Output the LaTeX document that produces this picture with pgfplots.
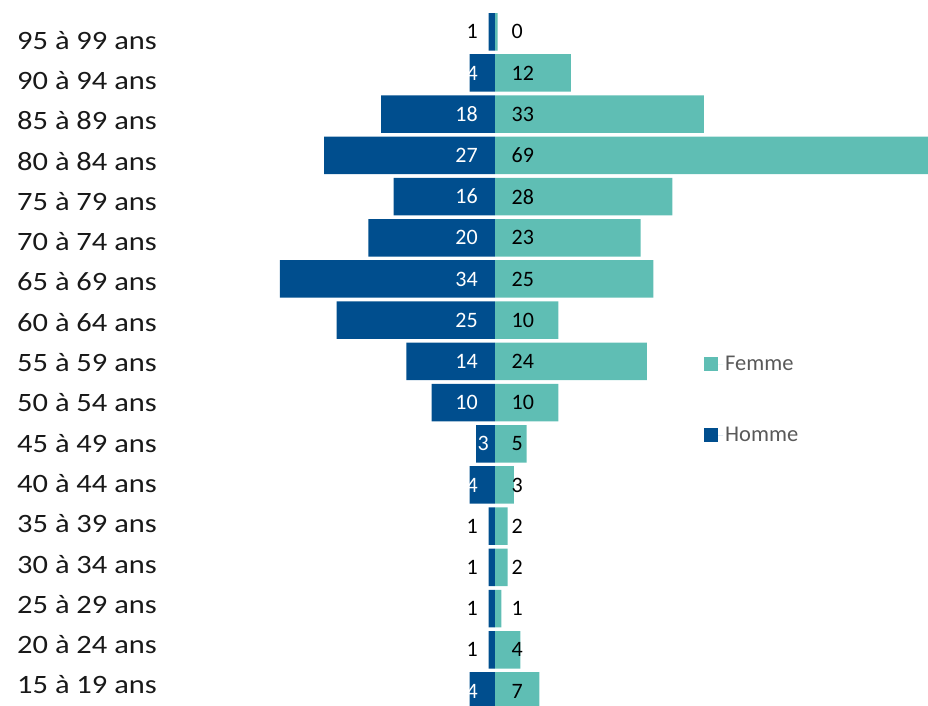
\documentclass[border=0pt]{standalone}
\usepackage{fontspec}
\setmainfont{Carlito}
\newfontfamily\tickfont[FakeStretch=1.15]{Carlito}
\usepackage{pgfplots}
\pgfplotsset{compat=1.18}
\definecolor{homme}{RGB}{0,78,142}
\definecolor{femme}{RGB}{95,190,180}
\definecolor{legtext}{RGB}{89,89,89}
\definecolor{ticktext}{RGB}{25,25,25}
\newcommand\labelfont{\fontsize{22}{24}\selectfont}
\begin{document}
\begin{tikzpicture}[x=1pt,y=1pt]
\useasboundingbox (0,0) rectangle (928,706);
\begin{axis}[
    at={(165.8pt,-5.6pt)}, anchor=south west,
    scale only axis, width=766pt, height=700.4pt,
    xmin=-52, xmax=69, ymin=-0.5, ymax=16.5,
    axis lines*=left, axis line style={draw=none},
    xtick=\empty, major tick length=0pt,
    ytick={0.146,1.124,2.102,3.080,4.058,5.036,6.014,6.992,7.970,8.948,9.926,10.904,11.882,12.860,13.838,14.816,15.794},
    yticklabels={15 à 19 ans,20 à 24 ans,25 à 29 ans,30 à 34 ans,35 à 39 ans,40 à 44 ans,45 à 49 ans,50 à 54 ans,55 à 59 ans,60 à 64 ans,65 à 69 ans,70 à 74 ans,75 à 79 ans,80 à 84 ans,85 à 89 ans,90 à 94 ans,95 à 99 ans},
    yticklabel style={font=\tickfont\fontsize{26.5}{30}\selectfont, text=ticktext, inner sep=0pt, anchor=east, xshift=-8.8pt},
    legend style={at={(rel axis cs:0.7026,0.5106)}, anchor=north west, draw=none, fill=none,
        inner sep=0pt, row sep=51pt, font=\fontsize{22.5}{25}\selectfont, text=legtext},
    legend cell align=left,
]
% Femme
\addplot[xbar, bar width=37.5pt, bar shift=0pt, fill=femme, draw=none,
    legend image code/.code={\fill[femme] (0pt,-6.75pt) rectangle (13.5pt,6.75pt); \path (0pt,0pt) -- (19pt,0pt);}]
    coordinates {(7,0) (4,1) (1,2) (2,3) (2,4) (3,5) (5,6) (10,7) (24,8) (10,9)
                 (25,10) (23,11) (28,12) (69,13) (33,14) (12,15) (0.4,16)};
\addlegendentry{Femme}
% Homme
\addplot[xbar, bar width=37.5pt, bar shift=0pt, fill=homme, draw=none,
    legend image code/.code={\fill[homme] (0pt,-6.75pt) rectangle (13.5pt,6.75pt); \path (0pt,0pt) -- (19pt,0pt);}]
    coordinates {(-4,0) (-1,1) (-1,2) (-1,3) (-1,4) (-4,5) (-3,6) (-10,7) (-14,8) (-25,9)
                 (-34,10) (-20,11) (-16,12) (-27,13) (-18,14) (-4,15) (-1,16)};
\addlegendentry{Homme}
% labels Femme
\addplot[draw=none, forget plot, nodes near coords, point meta=explicit symbolic,
    every node near coord/.append style={anchor=west, xshift=16.5pt, inner sep=0pt, text=black, font=\labelfont}]
    coordinates {(0,0)[7] (0,1)[4] (0,2)[1] (0,3)[2] (0,4)[2] (0,5)[3] (0,6)[5] (0,7)[10] (0,8)[24] (0,9)[10]
                 (0,10)[25] (0,11)[23] (0,12)[28] (0,13)[69] (0,14)[33] (0,15)[12] (0,16)[0]};
% labels Homme, white
\addplot[draw=none, forget plot, nodes near coords, point meta=explicit symbolic,
    every node near coord/.append style={anchor=east, xshift=-17pt, inner sep=0pt, text=white, font=\labelfont}]
    coordinates {(0,0)[4] (0,5)[4] (0,7)[10] (0,8)[14] (0,9)[25]
                 (0,10)[34] (0,11)[20] (0,12)[16] (0,13)[27] (0,14)[18] (0,15)[4]};
\addplot[draw=none, forget plot, nodes near coords, point meta=explicit symbolic,
    every node near coord/.append style={anchor=east, xshift=-6pt, inner sep=0pt, text=white, font=\labelfont}]
    coordinates {(0,6)[3]};
% labels Homme, black
\addplot[draw=none, forget plot, nodes near coords, point meta=explicit symbolic,
    every node near coord/.append style={anchor=east, xshift=-17pt, inner sep=0pt, text=black, font=\labelfont}]
    coordinates {(0,1)[1] (0,2)[1] (0,3)[1] (0,4)[1] (0,16)[1]};
\end{axis}
\end{tikzpicture}
\end{document}
